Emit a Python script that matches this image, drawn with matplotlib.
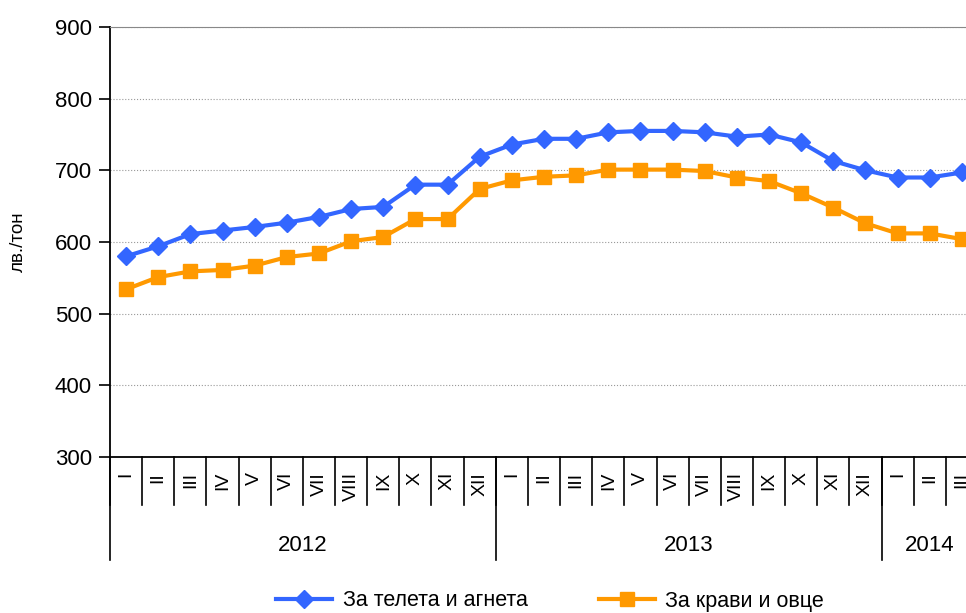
import matplotlib
matplotlib.use('Agg')
import matplotlib.pyplot as plt
import matplotlib.transforms as mtransforms

plt.rcParams['font.family'] = ['Liberation Sans', 'DejaVu Sans']

meseci = ['I', 'II', 'III', 'IV', 'V', 'VI', 'VII', 'VIII', 'IX', 'X', 'XI', 'XII']
godini = ['2012', '2013', '2014']
broi_meseci = [12, 12, 3]
etiketi = meseci * 2 + meseci[:3]

teleta = [580, 594, 611, 616, 621, 627, 635, 646, 649, 680, 680, 719,
          736, 744, 744, 753, 755, 755, 753, 747, 750, 739, 713, 700,
          690, 690, 697]
kravi = [534, 551, 559, 561, 567, 579, 584, 601, 607, 632, 632, 674,
         686, 691, 693, 701, 701, 701, 699, 690, 685, 668, 648, 626,
         612, 612, 604]

fig = plt.figure(figsize=(9.66, 6.13), dpi=100)
ax = fig.add_axes([110 / 966, 1 - 457 / 613, 868 / 966, 430 / 613])

x = list(range(len(etiketi)))
ax.plot(x, teleta, color='#3366FF', lw=3, marker='D', ms=9, label='За телета и агнета')
ax.plot(x, kravi, color='#FF9900', lw=3, marker='s', ms=9.5, label='За крави и овце')

ax.set_ylim(300, 900)
ax.set_yticks(range(300, 901, 100))
ax.set_xlim(-0.5, len(etiketi) - 0.5)
ax.set_xticks([])
ax.yaxis.grid(True, linestyle=':', color='#999999', lw=0.8)
ax.set_axisbelow(True)
ax.tick_params(axis='y', direction='out', length=8, width=1.2, labelsize=16, pad=5)
ax.set_ylabel('лв./тон', fontsize=13.5, labelpad=20)

ax.spines['right'].set_visible(False)
ax.spines['top'].set_color('#888888')
ax.spines['left'].set_linewidth(1.3)
ax.spines['bottom'].set_linewidth(1.3)

tr = mtransforms.blended_transform_factory(ax.transData, ax.transAxes)

# month labels and short separators
for i, m in enumerate(etiketi):
    ax.text(i, -0.035, m, transform=tr, rotation=90, ha='center', va='top', fontsize=14)
    ax.plot([i - 0.5, i - 0.5], [0, -0.112], transform=tr, color='black', lw=1.2, clip_on=False)

# year labels and long separators
start = 0
for g, n in zip(godini, broi_meseci):
    ax.plot([start - 0.5, start - 0.5], [0, -0.24], transform=tr, color='black', lw=1.2, clip_on=False)
    ax.text(start + (n - 1) / 2, -0.205, g, transform=tr, ha='center', va='center', fontsize=16)
    start += n

fig.legend(loc='center', bbox_to_anchor=(550 / 966, 1 - 601 / 613), ncol=2, frameon=False,
           handlelength=2.6, columnspacing=3.3, handletextpad=0.5, fontsize=15.5)

fig.savefig('out.png', dpi=100)
